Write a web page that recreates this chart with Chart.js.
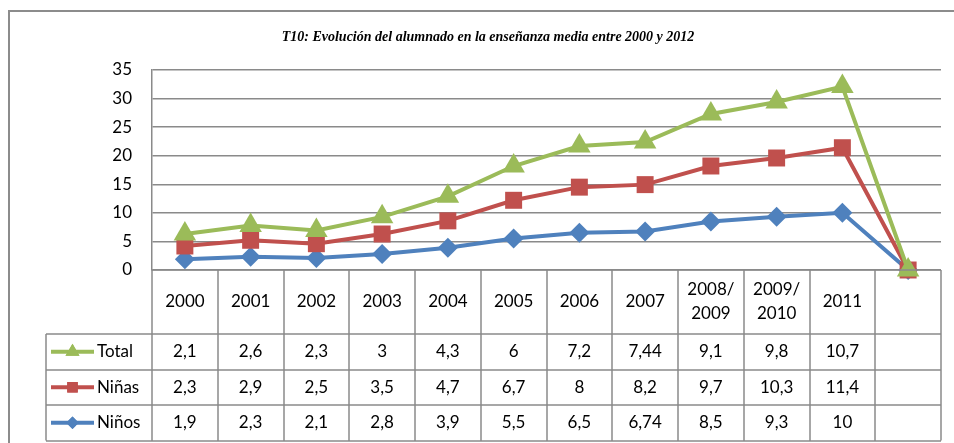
<!DOCTYPE html>
<html>
<head>
<meta charset="utf-8">
<script src="https://cdn.jsdelivr.net/npm/chart.js@4.4.1/dist/chart.umd.min.js"></script>
<style>
  html, body { margin: 0; padding: 0; background: #fff; }
</style>
</head>
<body>
<canvas id="myChart" width="954" height="443"></canvas>
<script>
const chartTitle = 'T10: Evolución del alumnado en la enseñanza media entre 2000 y 2012';
const years = ['2000', '2001', '2002', '2003', '2004', '2005', '2006', '2007',
  ['2008/', '2009'], ['2009/', '2010'], '2011', ''];
const ninos = [1.9, 2.3, 2.1, 2.8, 3.9, 5.5, 6.5, 6.74, 8.5, 9.3, 10, null];
const ninas = [2.3, 2.9, 2.5, 3.5, 4.7, 6.7, 8, 8.2, 9.7, 10.3, 11.4, null];
const total = [2.1, 2.6, 2.3, 3, 4.3, 6, 7.2, 7.44, 9.1, 9.8, 10.7, null];
const yMax = 35;
const yStep = 5;

const BLUE = '#4f81bd';
const RED = '#c0504d';
const GREEN = '#9bbb59';
const GRID = '#8a8a8a';
const FONT = 'Lato, Carlito, Calibri, sans-serif';

// empty cells are plotted as zero, like the original spreadsheet does
const plotted = arr => arr.map(v => v === null ? 0 : v);
const fmt = v => v === null ? '' : String(v).replace('.', ',');

const series = [
  { label: 'Niños', data: ninos, color: BLUE, style: 'rectRot', radius: 10 },
  { label: 'Niñas', data: ninas, color: RED, style: 'rect', radius: 12 },
  { label: 'Total', data: total, color: GREEN, style: 'triangle', radius: 13 }
];

// draw lower series first so Total ends on top
const drawOrder = {
  id: 'drawOrder',
  beforeDatasetsDraw(chart) {
    const metas = chart.getSortedVisibleDatasetMetas();
    metas.forEach(m => m.controller.draw());
    return false;
  }
};

const dataTable = {
  id: 'dataTable',
  afterDraw(chart) {
    const ctx = chart.ctx;
    const area = chart.chartArea;
    const x = chart.scales.x;
    const colW = (area.right - area.left) / years.length;
    const top = area.bottom;
    const headH = 64;
    const rowH = 35.5;
    const legL = 46;
    const bottom = top + headH + rowH * 3;

    ctx.save();
    // outer frame
    ctx.strokeStyle = '#8c8c8c';
    ctx.lineWidth = 2;
    ctx.beginPath();
    ctx.moveTo(9, 443);
    ctx.lineTo(9, 11);
    ctx.lineTo(954, 11);
    ctx.stroke();

    // title
    ctx.fillStyle = '#000';
    ctx.font = 'italic bold 14px "Liberation Serif", "Times New Roman", serif';
    ctx.textAlign = 'center';
    ctx.textBaseline = 'middle';
    ctx.fillText(chartTitle, 488, 37);

    // grid of the table
    ctx.strokeStyle = GRID;
    ctx.lineWidth = 1.5;
    ctx.beginPath();
    for (let i = 0; i <= years.length; i++) {
      const px = Math.round(area.left + i * colW);
      ctx.moveTo(px, top);
      ctx.lineTo(px, bottom);
    }
    ctx.moveTo(legL, top + headH);
    ctx.lineTo(legL, bottom);
    ctx.moveTo(area.left, top);
    ctx.lineTo(area.right, top);
    for (let r = 0; r <= 3; r++) {
      const py = Math.round(top + headH + r * rowH);
      ctx.moveTo(legL, py);
      ctx.lineTo(area.right, py);
    }
    ctx.stroke();

    ctx.fillStyle = '#000';
    ctx.font = '17px ' + FONT;
    ctx.textAlign = 'center';
    ctx.textBaseline = 'middle';
    years.forEach((y, i) => {
      const cx = x.getPixelForValue(i);
      const cy = top + headH / 2;
      if (Array.isArray(y)) {
        ctx.fillText(y[0], cx, cy - 12);
        ctx.fillText(y[1], cx, cy + 12);
      } else {
        ctx.fillText(y, cx, cy);
      }
    });

    // rows: Total, Niñas, Niños
    const rows = [series[2], series[1], series[0]];
    rows.forEach((s, r) => {
      const cy = top + headH + r * rowH + rowH / 2;
      ctx.textAlign = 'center';
      s.data.forEach((v, i) => {
        ctx.fillText(fmt(v), x.getPixelForValue(i), cy);
      });
      // legend key
      ctx.strokeStyle = s.color;
      ctx.lineWidth = 4;
      ctx.beginPath();
      ctx.moveTo(51, cy);
      ctx.lineTo(94, cy);
      ctx.stroke();
      ctx.fillStyle = s.color;
      Chart.helpers.drawPoint(ctx, { pointStyle: s.style, radius: s.radius * 0.62, rotation: 0, borderWidth: 0 }, 72.5, cy);
      ctx.fill();
      ctx.fillStyle = '#000';
      ctx.textAlign = 'left';
      ctx.fillText(s.label, 97, cy);
    });
    ctx.restore();
  }
};

new Chart(document.getElementById('myChart'), {
  type: 'line',
  data: {
    labels: years,
    datasets: series.map(s => ({
      label: s.label,
      data: plotted(s.data),
      borderColor: s.color,
      backgroundColor: s.color,
      borderWidth: 4,
      pointStyle: s.style,
      pointRadius: s.radius,
      pointHoverRadius: s.radius,
      pointBorderWidth: 0,
      pointBackgroundColor: s.color,
      fill: false,
      tension: 0
    }))
  },
  options: {
    responsive: false,
    animation: false,
    devicePixelRatio: 1,
    layout: { padding: { left: 0, right: 10, top: 70, bottom: 173 } },
    plugins: {
      legend: { display: false },
      title: { display: false },
      tooltip: { enabled: false }
    },
    scales: {
      x: { display: false, offset: true },
      y: {
        stacked: true,
        min: 0,
        max: yMax,
        afterFit: s => { s.width = 152; },
        ticks: { stepSize: yStep, color: '#000', padding: 20, font: { family: FONT, size: 17 } },
        grid: { color: GRID, lineWidth: 1.5, drawTicks: false },
        border: { display: true, color: GRID, width: 1.5 }
      }
    }
  },
  plugins: [drawOrder, dataTable]
});
</script>
</body>
</html>
